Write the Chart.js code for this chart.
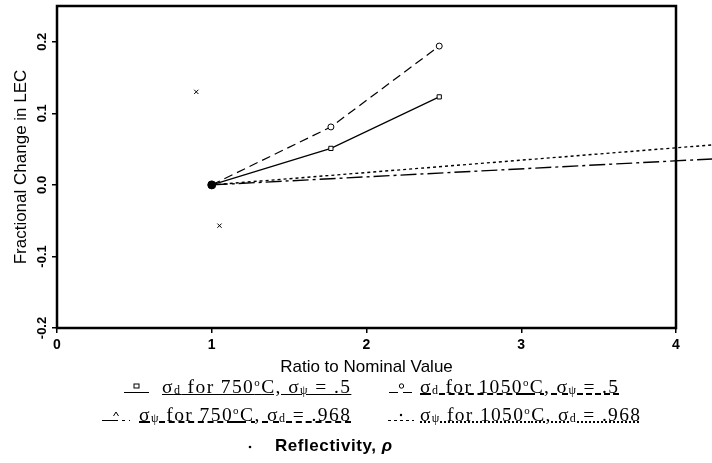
<!DOCTYPE html>
<html>
<head>
<meta charset="utf-8">
<script src="https://cdn.jsdelivr.net/npm/chart.js@4/dist/chart.umd.min.js"></script>
<style>
  html, body { margin: 0; padding: 0; background: #fff; }
  #quadro { position: relative; width: 712px; height: 463px; }
  #legenda { position: absolute; left: 0; top: 0; width: 712px; height: 463px; font-family: "Liberation Serif", serif; font-size: 19.5px; color: #000; pointer-events: none; }
  .peca { position: absolute; height: 26px; white-space: nowrap; display: flex; align-items: center; }
  .peca sub { font-size: 12px; vertical-align: -1px; }
  .peca sup { font-size: 11px; vertical-align: 7px; }
  .sans { font-family: "Liberation Sans", sans-serif; font-size: 17px; font-weight: bold; }
</style>
</head>
<body>
<div id="quadro">
  <canvas id="grafico" width="712" height="463"></canvas>
  <div id="legenda"></div>
</div>
<script>
// Nomes das séries (legenda)
const nomes = [
  "σ<sub>d</sub> for 750<sup>o</sup>C, σ<sub>ψ</sub> = .5",
  "σ<sub>d</sub> for 1050<sup>o</sup>C, σ<sub>ψ</sub> = .5",
  "σ<sub>ψ</sub> for 750<sup>o</sup>C, σ<sub>d</sub> = .968",
  "σ<sub>ψ</sub> for 1050<sup>o</sup>C, σ<sub>d</sub> = .968",
  "Reflectivity, <i>ρ</i>"
];

// Dados
const xSigmaD = [1, 1.77, 2.47];
const ySigmaD750 = [0, 0.051, 0.123];
const ySigmaD1050 = [0, 0.081, 0.194];
const xSigmaPsi = [1, 4.3];
const ySigmaPsi750 = [0, 0.037];
const ySigmaPsi1050 = [0, 0.057];
const xRefl = [0.9, 1.05];
const yRefl = [0.13, -0.057];
const xNominal = [1];
const yNominal = [0];

// Marcas dos eixos
const xTicks = [0, 1, 2, 3, 4];
const yTicks = [-0.2, -0.1, 0, 0.1, 0.2];

function pares(xs, ys) {
  return xs.map((x, i) => ({ x: x, y: ys[i] }));
}

// Moldura preta em volta da área do gráfico
const moldura = {
  id: "moldura",
  beforeDatasetsDraw(chart) {
    const { ctx, chartArea: a } = chart;
    ctx.save();
    ctx.lineWidth = 2.5;
    ctx.strokeStyle = "#000";
    ctx.strokeRect(a.left, a.top, a.right - a.left, a.bottom - a.top);
    ctx.restore();
  },
};

const estilos = [
  { dash: [], ponto: "rect" },
  { dash: [9, 5], ponto: "circle" },
  { dash: [16, 4, 3, 4], ponto: "triangle" },
  { dash: [3, 3], ponto: "dot" },
];

const ctx = document.getElementById("grafico").getContext("2d");
const grafico = new Chart(ctx, {
  type: "scatter",
  data: {
    datasets: [
      {
        label: "sd750",
        data: pares(xSigmaD, ySigmaD750),
        showLine: true,
        borderColor: "#000",
        borderWidth: 1.2,
        borderDash: estilos[0].dash,
        pointStyle: "rect",
        pointRadius: 3,
        pointBackgroundColor: "#fff",
        pointBorderColor: "#000",
        pointBorderWidth: 1,
      },
      {
        label: "sd1050",
        data: pares(xSigmaD, ySigmaD1050),
        showLine: true,
        borderColor: "#000",
        borderWidth: 1.2,
        borderDash: estilos[1].dash,
        pointStyle: "circle",
        pointRadius: 3,
        pointBackgroundColor: "#fff",
        pointBorderColor: "#000",
        pointBorderWidth: 1,
      },
      {
        label: "spsi750",
        data: pares(xSigmaPsi, ySigmaPsi750),
        showLine: true,
        clip: false,
        borderColor: "#000",
        borderWidth: 1.4,
        borderDash: estilos[2].dash,
        pointRadius: 0,
      },
      {
        label: "spsi1050",
        data: pares(xSigmaPsi, ySigmaPsi1050),
        showLine: true,
        clip: false,
        borderColor: "#000",
        borderWidth: 1.4,
        borderDash: estilos[3].dash,
        pointRadius: 0,
      },
      {
        label: "refl",
        data: pares(xRefl, yRefl),
        showLine: false,
        pointStyle: "crossRot",
        pointRadius: 3,
        pointBorderColor: "#000",
        pointBorderWidth: 1,
      },
      {
        label: "nominal",
        order: -1,
        data: pares(xNominal, yNominal),
        showLine: false,
        pointStyle: "circle",
        pointRadius: 4,
        pointBackgroundColor: "#000",
        pointBorderColor: "#000",
      },
    ],
  },
  options: {
    responsive: false,
    animation: false,
    layout: { padding: { top: 6, right: 36, left: 0, bottom: 85 } },
    plugins: { legend: { display: false }, tooltip: { enabled: false } },
    scales: {
      x: {
        type: "linear",
        min: 0,
        max: 4,
        afterBuildTicks: (s) => { s.ticks = xTicks.map((v) => ({ value: v })); },
        afterFit: (s) => { s.height = 50; },
        grid: { drawOnChartArea: false, drawTicks: true, tickLength: 5, color: "#000", lineWidth: 1.5 },
        border: { display: false },
        ticks: { color: "#000", padding: 4, maxRotation: 0, font: { family: "Liberation Sans", size: 14, weight: "bold" } },
        title: { display: true, text: "Ratio to Nominal Value", color: "#000", padding: 0, font: { family: "Liberation Sans", size: 17 } },
      },
      y: {
        type: "linear",
        min: -0.2,
        max: 0.25,
        afterBuildTicks: (s) => { s.ticks = yTicks.map((v) => ({ value: v })); },
        afterFit: (s) => { s.width = 57; },
        grid: { drawOnChartArea: false, drawTicks: true, tickLength: 5, color: "#000", lineWidth: 1.5 },
        border: { display: false },
        ticks: {
          color: "#000",
          padding: -2,
          minRotation: 90,
          maxRotation: 90,
          crossAlign: "center",
          font: { family: "Liberation Sans", size: 13, weight: "bold" },
          callback: (v) => Number(v).toFixed(1),
        },
        title: { display: true, text: "Fractional Change in LEC", color: "#000", padding: { top: 11, bottom: 0 }, font: { family: "Liberation Sans", size: 17 } },
      },
    },
  },
  plugins: [moldura],
});

// Legenda em HTML, com as amostras de linha
function amostra(i, largura) {
  const e = estilos[i];
  const dash = e.dash.length ? e.dash.join(",") : "none";
  const m = largura / 2;
  let marca = "";
  if (e.ponto === "rect") marca = '<rect x="' + (m - 2.5) + '" y="4" width="5" height="4" fill="#fff" stroke="#000" stroke-width="1"/>';
  if (e.ponto === "circle") marca = '<circle cx="' + m + '" cy="6" r="2.2" fill="#fff" stroke="#000" stroke-width="1"/>';
  if (e.ponto === "triangle") marca = '<path d="M' + (m - 2.5) + ',8 L' + m + ',4 L' + (m + 2.5) + ',8" fill="none" stroke="#000" stroke-width="1"/>';
  if (e.ponto === "dot") marca = '<circle cx="' + m + '" cy="7" r="1.2" fill="#000"/>';
  return '<svg width="' + largura + '" height="14">' + marca +
    '<line x1="0" y1="12.5" x2="' + largura + '" y2="12.5" stroke="#000" stroke-width="1" stroke-dasharray="' + dash + '"/></svg>';
}

// colunas da legenda: amostra, texto e largura do texto
const posicoes = [
  { y: 387, amostraX: 124, amostraW: 25, textoX: 162, largura: 188 },
  { y: 387, amostraX: 389, amostraW: 25, textoX: 420, largura: 198 },
  { y: 415, amostraX: 102, amostraW: 28, textoX: 139, largura: 211 },
  { y: 415, amostraX: 388, amostraW: 26, textoX: 420, largura: 220 },
];
const sublinhado = ["solid", "dashed", "dashed", "dotted"];

const legenda = document.getElementById("legenda");
let html = "";
posicoes.forEach((p, i) => {
  html += '<div class="peca" style="top:' + (p.y - 13) + "px;left:" + p.amostraX + 'px">' + amostra(i, p.amostraW) + "</div>";
  html += '<div class="peca" style="top:' + (p.y - 13) + "px;left:" + p.textoX + 'px"><span class="txt" data-w="' + p.largura +
    '" style="text-decoration:underline ' + sublinhado[i] + '">' + nomes[i] + "</span></div>";
});
html += '<div class="peca" style="top:433px;left:247px"><svg width="6" height="14"><circle cx="3" cy="8" r="1.3" fill="#000"/></svg></div>';
html += '<div class="peca sans" style="top:433px;left:275px"><span class="txt" data-w="117">' + nomes[4] + "</span></div>";
legenda.innerHTML = html;

// ajusta o espaçamento das letras para casar com a largura do original
document.querySelectorAll("#legenda .txt").forEach((el) => {
  const alvo = Number(el.dataset.w);
  const w = el.getBoundingClientRect().width;
  const n = Math.max(el.textContent.length - 1, 1);
  el.style.letterSpacing = ((alvo - w) / n).toFixed(2) + "px";
});
</script>
</body>
</html>
